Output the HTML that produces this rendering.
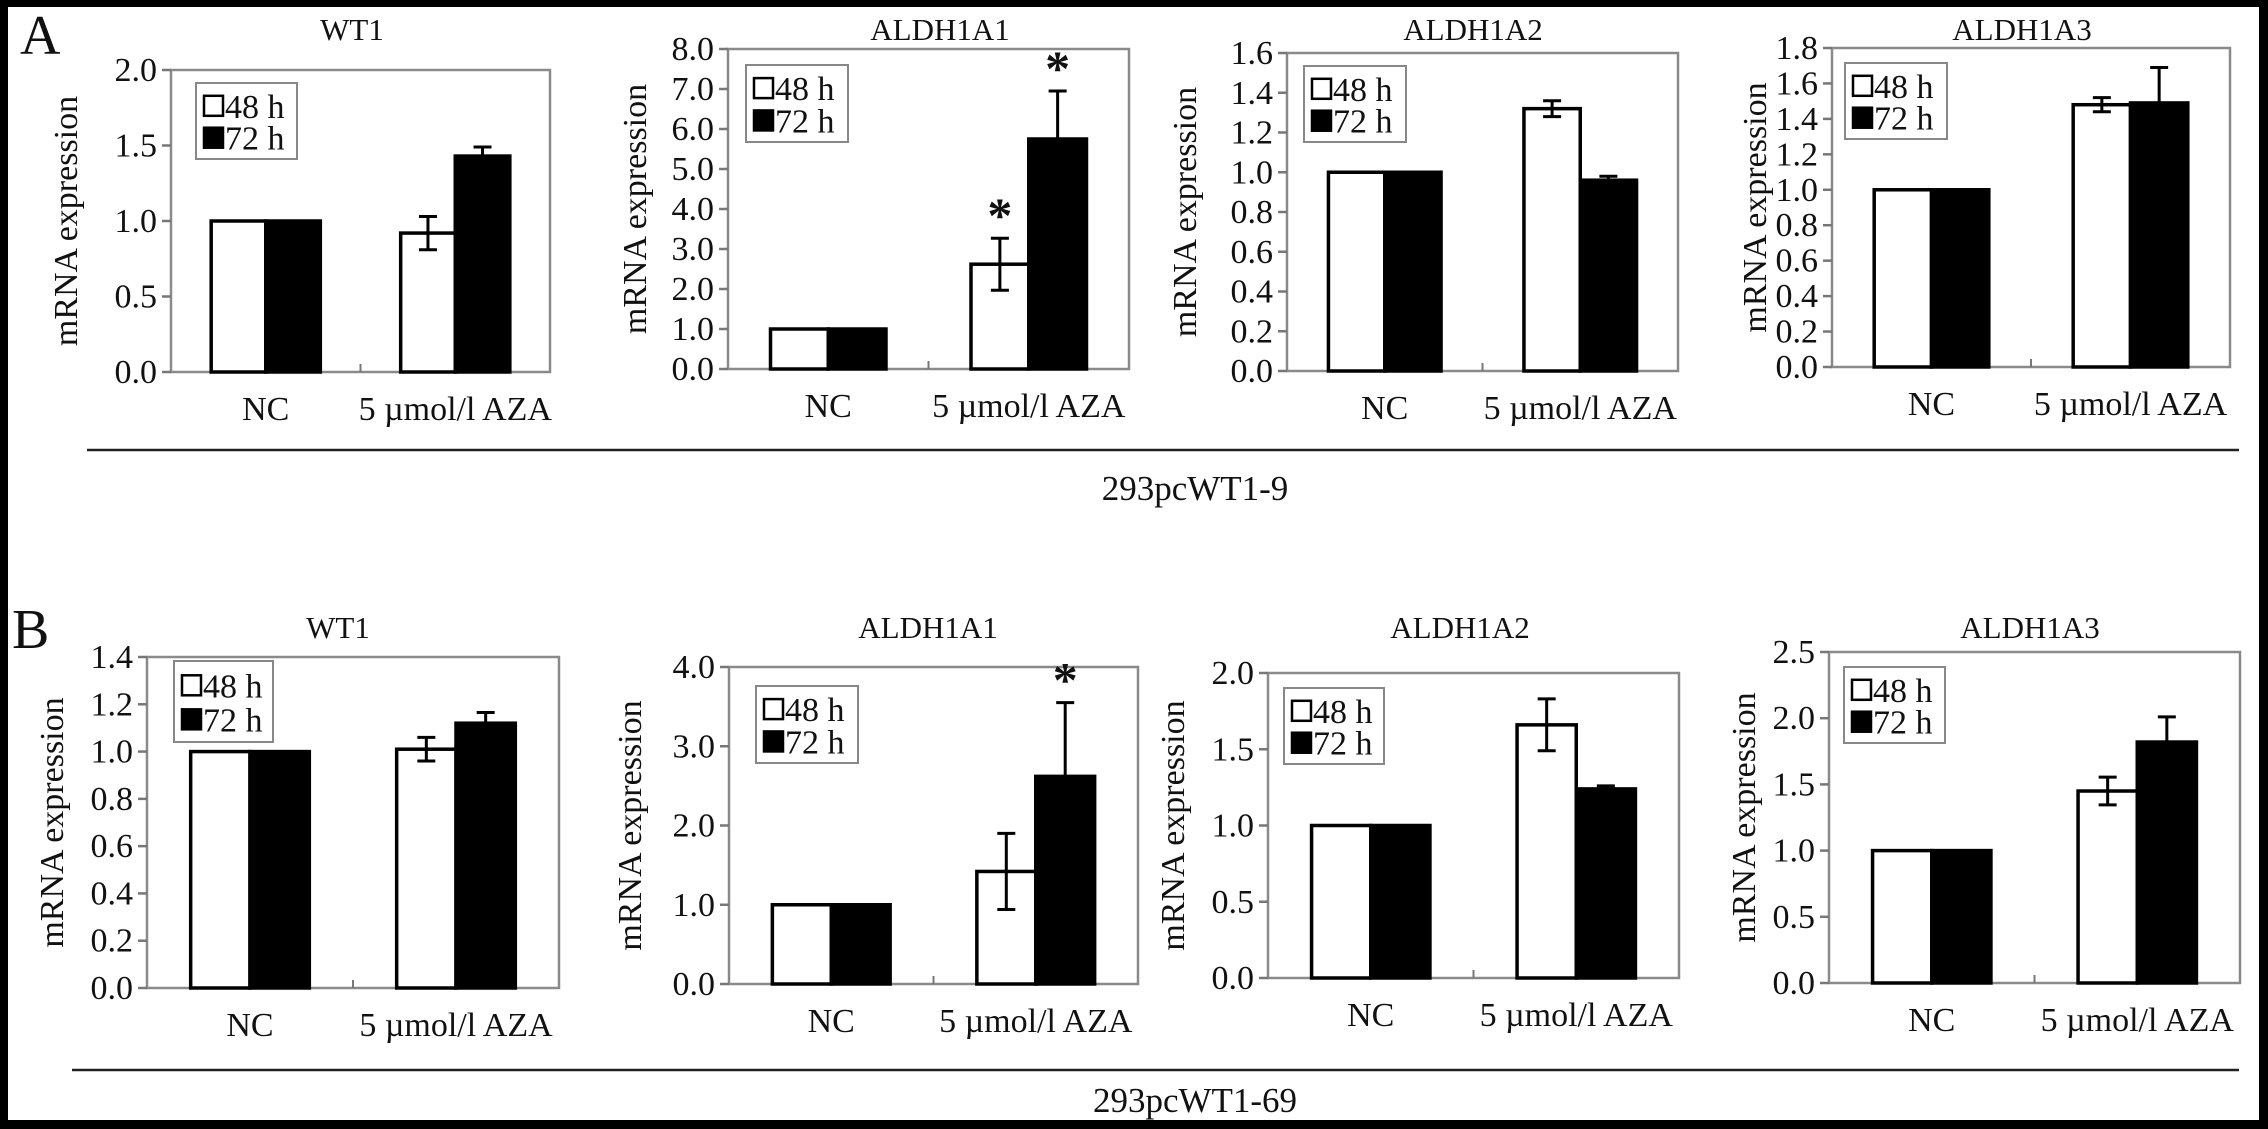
<!DOCTYPE html>
<html><head><meta charset="utf-8"><style>
html,body{margin:0;padding:0;background:#000;}
#wrap{position:relative;width:2268px;height:1129px;background:#000;}
svg{position:absolute;left:0;top:0;}
text{font-family:"Liberation Serif",serif;fill:#111;}
</style></head><body>
<div id="wrap">
<svg id="fig" width="2268" height="1129" viewBox="0 0 2268 1129">
<rect x="8" y="7" width="2251" height="1113" fill="#fff"/>
<text x="20" y="54" font-size="56">A</text>
<text x="12" y="648" font-size="56">B</text>
<line x1="87" y1="450" x2="2239" y2="450" stroke="#222" stroke-width="2.5"/>
<text x="1195" y="500" font-size="35" text-anchor="middle">293pcWT1-9</text>
<line x1="72" y1="1070" x2="2239" y2="1070" stroke="#222" stroke-width="2.5"/>
<text x="1195" y="1112" font-size="35" text-anchor="middle">293pcWT1-69</text>
</svg>
</div>
<script>
const genes = ["WT1","ALDH1A1","ALDH1A2","ALDH1A3"];
const categories = ["NC","5 µmol/l AZA"];
const seriesNames = ["48 h","72 h"];
// Row A (293pcWT1-9)
const aMax = [2.0, 8.0, 1.6, 1.8];
const aStep = [0.5, 1.0, 0.2, 0.2];
const aVal48 = [[1,0.92],[1,2.62],[1,1.32],[1,1.48]];
const aErr48 = [[0,0.11],[0,0.65],[0,0.04],[0,0.04]];
const aVal72 = [[1,1.43],[1,5.75],[1,0.96],[1,1.49]];
const aErr72 = [[0,0.06],[0,1.2],[0,0.02],[0,0.2]];
const aStar48 = [[0,0],[0,1],[0,0],[0,0]];
const aStar72 = [[0,0],[0,1],[0,0],[0,0]];
// Row B (293pcWT1-69)
const bMax = [1.4, 4.0, 2.0, 2.5];
const bStep = [0.2, 1.0, 0.5, 0.5];
const bVal48 = [[1,1.01],[1,1.42],[1,1.66],[1,1.45]];
const bErr48 = [[0,0.05],[0,0.48],[0,0.17],[0,0.105]];
const bVal72 = [[1,1.12],[1,2.62],[1,1.24],[1,1.82]];
const bErr72 = [[0,0.045],[0,0.93],[0,0.02],[0,0.19]];
const bStar48 = [[0,0],[0,0],[0,0],[0,0]];
const bStar72 = [[0,0],[0,1],[0,0],[0,0]];

const NS = "http://www.w3.org/2000/svg";
const svg = document.getElementById("fig");
function mk(tag, attrs, parent){
  const e = document.createElementNS(NS, tag);
  for (const k in attrs) e.setAttribute(k, attrs[k]);
  (parent||svg).appendChild(e);
  return e;
}
const layoutA = [
 {l:171,r:550,t:70,b:372,tx:352,yx:66,lg:[196,83,101,76]},
 {l:728,r:1129,t:49,b:369,tx:940,yx:635,lg:[746,65,102,77]},
 {l:1287,r:1678,t:53,b:371,tx:1473,yx:1185,lg:[1304,66,102,76]},
 {l:1832,r:2230,t:48,b:367,tx:2022,yx:1755,lg:[1845,63,102,76]}];
const layoutB = [
 {l:147,r:559,t:657,b:988,tx:338,yx:52,lg:[174,661,99,81]},
 {l:729,r:1138,t:667,b:984,tx:928,yx:630,lg:[756,686,102,77]},
 {l:1268,r:1679,t:673,b:978,tx:1460,yx:1173,lg:[1284,688,100,76]},
 {l:1829,r:2240,t:652,b:983,tx:2030,yx:1744,lg:[1844,667,101,76]}];

function drawPanel(row, i, L, ymax, ystep, v48, e48, v72, e72, s48, s72, titleY){
  const g = mk("g", {});
  
  
  const y = v => L.b - (v / ymax) * (L.b - L.t);
  const W = L.r - L.l;
  const xc = k => L.l + W * (0.25 + 0.5 * k);
  const bw = W * 0.144;
  const fr = mk("rect", {x:L.l, y:L.t, width:W, height:L.b-L.t, fill:"none", stroke:"#8a8a8a", "stroke-width":2.5}, g);
  
  
  const n = Math.round(ymax / ystep);
  for (let k = 0; k <= n; k++){
    const v = k * ystep, yy = y(v);
    const tk = mk("line", {x1:L.l-9, y1:yy, x2:L.l, y2:yy, stroke:"#777", "stroke-width":2.5}, g);
    
    
    const tl = mk("text", {x:L.l-14, y:yy+11, "font-size":34, "text-anchor":"end"}, g);
    tl.textContent = v.toFixed(1);
    
    
  }
  const mt = mk("line", {x1:(L.l+L.r)/2, y1:L.b-8, x2:(L.l+L.r)/2, y2:L.b, stroke:"#777", "stroke-width":2}, g);
  
  
  const tt = mk("text", {x:L.tx, y:titleY, "font-size":31, "text-anchor":"middle"}, g);
  tt.textContent = genes[i];
  
  
  const cy = (L.t + L.b) / 2;
  const yl = mk("text", {x:L.yx, y:cy, "font-size":34, "text-anchor":"middle", transform:"rotate(-90 "+L.yx+" "+cy+")", dy:"11"}, g);
  yl.textContent = "mRNA expression";
  
  
  for (let c = 0; c < 2; c++){
    const sets = [[v48, e48, s48, "#fff", -1], [v72, e72, s72, "#000", 0]];
    sets.forEach((s, si) => {
      const val = s[0][i][c], er = s[1][i][c], st = s[2][i][c];
      const x0 = xc(c) + s[4] * bw;
      const br = mk("rect", {x:x0, y:y(val), width:bw, height:L.b - y(val), fill:s[3], stroke:"#000", "stroke-width":3.5}, g);
      
      
      const mx = x0 + bw / 2;
      if (er > 0){
        const eb = mk("path", {d:"M"+mx+" "+y(val-er)+"V"+y(val+er)+"M"+(mx-9)+" "+y(val+er)+"H"+(mx+9)+"M"+(mx-9)+" "+y(val-er)+"H"+(mx+9), stroke:"#000", "stroke-width":3, fill:"none"}, g);
        
        
      }
      if (st){
        const sx = mk("text", {x:mx, y:y(val+er)-6, "font-size":50, "font-weight":"bold", "text-anchor":"middle", "font-family":"Liberation Sans, sans-serif"}, g);
        sx.textContent = "*";
        
        
      }
    });
    const cl = mk("text", {x:xc(c), y:L.b+48, "font-size":34, "text-anchor":"middle"}, g);
    cl.textContent = categories[c];
    
    
  }
  const [lx, ly, lw, lh] = L.lg;
  const lg = mk("g", {}, g);
  
  
  mk("rect", {x:lx, y:ly, width:lw, height:lh, fill:"#fff", stroke:"#888", "stroke-width":2}, lg);
  seriesNames.forEach((nm, k) => {
    const ry = ly + lh * (k ? 0.72 : 0.3);
    const sw = mk("rect", {x:lx+8, y:ry-10, width:19, height:20, fill:k ? "#000" : "#fff", stroke:"#000", "stroke-width":2.5}, lg);
    
    
    const lt = mk("text", {x:lx+29, y:ry+12, "font-size":34}, lg);
    lt.textContent = nm;
    
    
  });
}
for (let i = 0; i < 4; i++){
  drawPanel("a", i, layoutA[i], aMax[i], aStep[i], aVal48, aErr48, aVal72, aErr72, aStar48, aStar72, 40);
  drawPanel("b", i, layoutB[i], bMax[i], bStep[i], bVal48, bErr48, bVal72, bErr72, bStar48, bStar72, 638);
}
</script>
</body></html>
